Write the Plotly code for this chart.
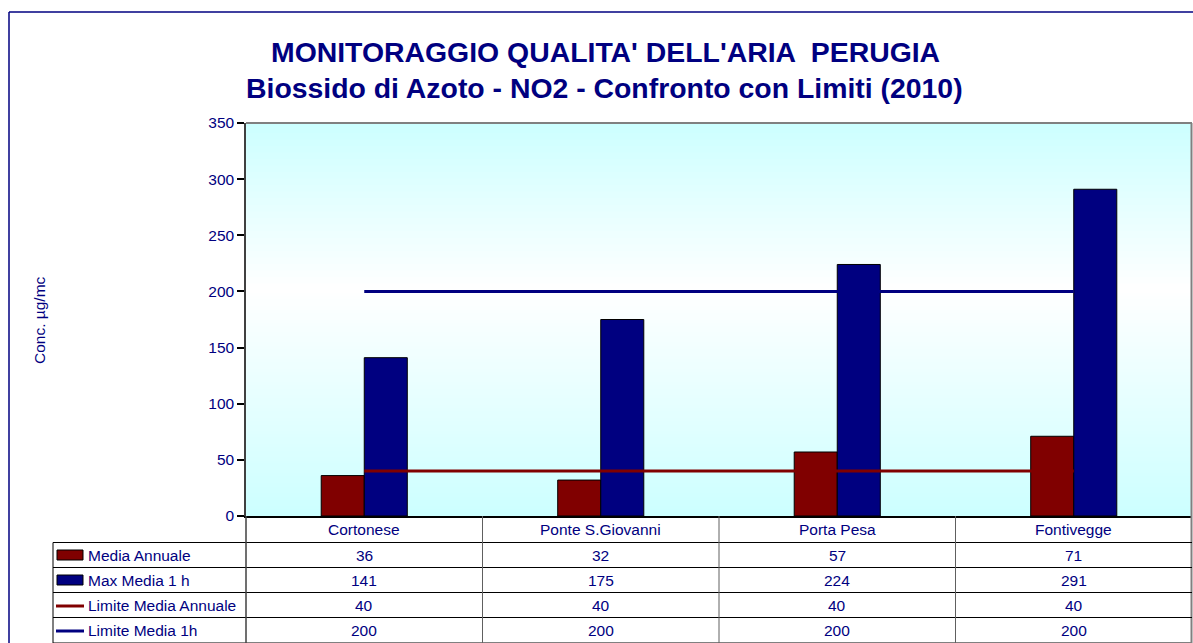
import plotly.graph_objects as go

categories = ["Cortonese", "Ponte S.Giovanni", "Porta Pesa", "Fontivegge"]
media_annuale = [36, 32, 57, 71]
max_media_1h = [141, 175, 224, 291]
limite_media_annuale = [40, 40, 40, 40]
limite_media_1h = [200, 200, 200, 200]
series_names = ["Media Annuale", "Max Media 1 h", "Limite Media Annuale", "Limite Media 1h"]

RED = "#800000"
NAVY = "#000080"
TXT = "#000080"
FONT = "Arial, Liberation Sans, sans-serif"

W, H = 1193, 643
L, R, T, B = 246, 1, 123, 127
PW, PH = W - L - R, H - T - B


def px(x):
    return (x - L) / PW


def py(y):
    return (H - B - y) / PH


fig = go.Figure()
fig.add_trace(go.Bar(x=categories, y=media_annuale, name=series_names[0],
                     marker=dict(color=RED, line=dict(color="black", width=1))))
fig.add_trace(go.Bar(x=categories, y=max_media_1h, name=series_names[1],
                     marker=dict(color=NAVY, line=dict(color="black", width=1))))
fig.add_trace(go.Scatter(x=categories, y=limite_media_annuale, name=series_names[2],
                         mode="lines", line=dict(color=RED, width=3)))
fig.add_trace(go.Scatter(x=categories, y=limite_media_1h, name=series_names[3],
                         mode="lines", line=dict(color=NAVY, width=3)))

shapes = []
# gradient background: cyan top -> white (~43% from top) -> cyan bottom
n = 120
c0 = (204, 255, 255)
c1 = (255, 255, 255)
mid = 0.575  # paper y of white band
for i in range(n):
    y0 = i / n
    y1 = (i + 1) / n
    yc = (y0 + y1) / 2
    if yc < mid:
        t = yc / mid
    else:
        t = (1 - yc) / (1 - mid)
    col = tuple(round(c0[k] + (c1[k] - c0[k]) * t) for k in range(3))
    shapes.append(dict(type="rect", xref="paper", yref="paper", x0=0, x1=1, y0=y0, y1=y1 + 0.002,
                       fillcolor="rgb(%d,%d,%d)" % col, line=dict(width=0), layer="below"))

# plot border top/right (gray)
shapes.append(dict(type="line", xref="paper", yref="paper", x0=0, x1=1, y0=1, y1=1,
                   line=dict(color="#808080", width=2)))
shapes.append(dict(type="line", xref="paper", yref="paper", x0=px(1191.5), x1=px(1191.5), y0=py(643), y1=1,
                   line=dict(color="#808080", width=2)))

# table horizontal lines
for yy in [542.5, 567.5, 592.5, 617.5]:
    shapes.append(dict(type="line", xref="paper", yref="paper", x0=px(53), x1=1, y0=py(yy), y1=py(yy),
                       line=dict(color="black", width=1)))
shapes.append(dict(type="line", xref="paper", yref="paper", x0=px(53), x1=1, y0=py(642.5), y1=py(642.5),
                   line=dict(color="#808080", width=1)))
# table vertical lines
shapes.append(dict(type="line", xref="paper", yref="paper", x0=px(53), x1=px(53), y0=py(542.5), y1=py(643),
                   line=dict(color="black", width=1)))
shapes.append(dict(type="line", xref="paper", yref="paper", x0=0, x1=0, y0=0, y1=py(643),
                   line=dict(color="#404040", width=1.5)))
for xc in [0.5, 1.5, 2.5]:
    shapes.append(dict(type="line", xref="x", yref="paper", x0=xc, x1=xc, y0=0, y1=py(643),
                       line=dict(color="#606060", width=1)))

# outer frame (navy)
shapes.append(dict(type="line", xref="paper", yref="paper", x0=px(9), x1=px(1193), y0=py(12), y1=py(12),
                   line=dict(color=NAVY, width=1.5)))
shapes.append(dict(type="line", xref="paper", yref="paper", x0=px(9), x1=px(9), y0=py(12), y1=py(643),
                   line=dict(color=NAVY, width=1.5)))

# legend swatches in table
row_y = [555, 580, 605, 630]
for i, col in enumerate([RED, NAVY]):
    shapes.append(dict(type="rect", xref="paper", yref="paper", x0=px(57), x1=px(83),
                       y0=py(row_y[i] - 5), y1=py(row_y[i] + 5),
                       fillcolor=col, line=dict(color="black", width=1)))
for i, col in zip([2, 3], [RED, NAVY]):
    shapes.append(dict(type="line", xref="paper", yref="paper", x0=px(56), x1=px(84),
                       y0=py(row_y[i] + 1), y1=py(row_y[i] + 1), line=dict(color=col, width=3)))

annotations = []
fnt = dict(family=FONT, size=15.5, color=TXT)
# title
annotations.append(dict(text="<b>MONITORAGGIO QUALITA' DELL'ARIA  PERUGIA</b>", xref="paper", yref="paper",
                        x=px(605), y=py(52), showarrow=False, xanchor="center", yanchor="middle",
                        font=dict(family=FONT, size=28.4, color=NAVY)))
annotations.append(dict(text="<b>Biossido di Azoto - NO2 - Confronto con Limiti (2010)</b>", xref="paper",
                        yref="paper", x=px(604), y=py(88), showarrow=False, xanchor="center",
                        yanchor="middle", font=dict(family=FONT, size=28.4, color=NAVY)))
# y axis title
annotations.append(dict(text="Conc. \u00b5g/mc", xref="paper", yref="paper", x=px(39), y=py(320),
                        textangle=-90, showarrow=False, xanchor="center", yanchor="middle", font=fnt))
# category header row
for c in categories:
    annotations.append(dict(text=c, xref="x", yref="paper", x=c, y=py(529), showarrow=False,
                            xanchor="center", yanchor="middle", font=fnt))
# table rows
rows = [media_annuale, max_media_1h, limite_media_annuale, limite_media_1h]
for r, (name, vals) in enumerate(zip(series_names, rows)):
    annotations.append(dict(text=name, xref="paper", yref="paper", x=px(86), y=py(row_y[r]),
                            showarrow=False, xanchor="left", yanchor="middle", font=fnt))
    for c, v in zip(categories, vals):
        annotations.append(dict(text=str(v), xref="x", yref="paper", x=c, y=py(row_y[r]),
                                showarrow=False, xanchor="center", yanchor="middle", font=fnt))

fig.update_layout(
    width=W, height=H,
    margin=dict(l=L, r=R, t=T, b=B, autoexpand=False),
    paper_bgcolor="white", plot_bgcolor="rgba(0,0,0,0)",
    barmode="group", bargap=0.636, bargroupgap=0,
    showlegend=False,
    font=dict(family=FONT, size=15.5, color=TXT),
    shapes=shapes, annotations=annotations,
    xaxis=dict(type="category", range=[-0.5, 3.5], showticklabels=False, ticks="",
               showgrid=False, zeroline=False, showline=True, linecolor="black", linewidth=1.5),
    yaxis=dict(range=[0, 350], dtick=50, tickmode="linear", ticks="outside", ticklen=7,
               tickcolor="black", tickwidth=1.5, showgrid=False, zeroline=False,
               showline=True, linecolor="#404040", linewidth=1.5,
               tickfont=dict(family=FONT, size=15.5, color=TXT)),
)

fig.write_html("out.html", config={"displayModeBar": False},
               post_script="document.body.style.margin='0';document.body.style.padding='0';"
                           "document.body.style.overflow='hidden';")
